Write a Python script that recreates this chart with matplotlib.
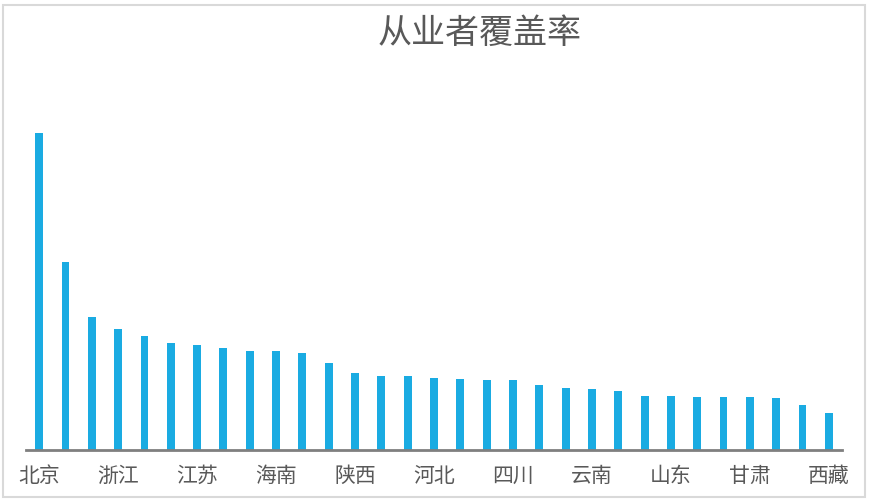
import matplotlib
matplotlib.use("Agg")
import matplotlib.pyplot as plt
from matplotlib.patches import Rectangle

plt.rcParams['font.family'] = ['Noto Sans CJK SC', 'DejaVu Sans']

# provinces, sorted by coverage (only every third one is labelled in the chart)
provinces = ["北京", "上海", "天津", "浙江", "广东", "福建", "江苏", "重庆", "辽宁",
             "海南", "宁夏", "青海", "陕西", "新疆", "内蒙古", "河北", "吉林", "湖北",
             "四川", "湖南", "山西", "云南", "安徽", "江西", "山东", "黑龙江", "贵州",
             "甘肃", "广西", "河南", "西藏"]
coverage = [31.7, 18.8, 13.3, 12.1, 11.4, 10.7, 10.5, 10.2, 9.9, 9.9, 9.7,
            8.7, 7.7, 7.4, 7.4, 7.2, 7.1, 7.0, 7.0, 6.5, 6.2, 6.1, 5.9,
            5.4, 5.4, 5.3, 5.3, 5.3, 5.2, 4.5, 3.7]
title = "从业者覆盖率"

bar_color = "#1aabe2"
text_color = "#595959"

fig = plt.figure(figsize=(8.7, 4.99), dpi=100)
W, H = 870, 499

# light frame around the whole chart
fig.patches.append(Rectangle((3 / W, 2 / H), 862 / W, 492 / H, transform=fig.transFigure,
                             fill=False, edgecolor="#d9d9d9", linewidth=1.5))

ax = fig.add_axes([26 / W, (H - 450) / H, 816 / W, 390 / H])
x = list(range(len(provinces)))
ax.bar(x, coverage, width=0.3, color=bar_color, zorder=2)

ax.set_xlim(-0.5, len(provinces) - 0.5)
ax.set_ylim(0, 39)

ax.set_xticks(x[::3])
ax.set_xticklabels(provinces[::3], fontsize=15, color=text_color)
ax.tick_params(axis="x", length=0, pad=11)
ax.set_yticks([])

for side in ["top", "right", "left"]:
    ax.spines[side].set_visible(False)
ax.spines["bottom"].set_color("#7f7f7f")
ax.spines["bottom"].set_linewidth(2)
ax.spines["bottom"].set_zorder(3)

fig.text(479.5 / W, 1 - 33 / H, title, ha="center", va="center",
         fontsize=24.5, color=text_color)

fig.savefig("out.png", dpi=100)
